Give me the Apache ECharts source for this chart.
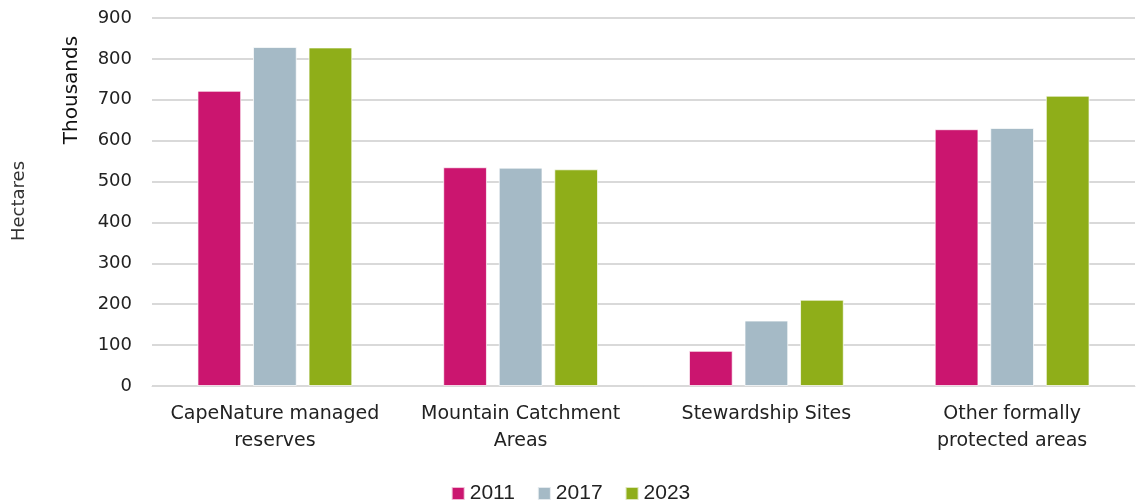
<!DOCTYPE html>
<html><head><meta charset="utf-8">
<script src="https://cdn.jsdelivr.net/npm/echarts@6/dist/echarts.min.js"></script>
<style>html,body{margin:0;padding:0;background:#fff}#c{width:1141px;height:503px}</style>
</head><body><div id="c"></div>
<script>
const categories = ["CapeNature managed\nreserves", "Mountain Catchment\nAreas", "Stewardship Sites", "Other formally\nprotected areas"];
const years = ["2011", "2017", "2023"];
const v2011 = [722, 535, 86, 628];
const v2017 = [829, 534, 160, 631];
const v2023 = [828, 530, 211, 710];
const colors = ["#CB156F", "#A5BAC6", "#8FAE19"];
const FONT = "'DejaVu Sans', sans-serif";
const chart = echarts.init(document.getElementById('c'), null, {renderer: 'canvas'});
const mk = (name, data, i) => ({
  name, type: 'bar', data,
  itemStyle: {color: colors[i], borderColor: 'rgba(255,255,255,0.7)', borderWidth: 1},
  barGap: '27%', barCategoryGap: '37%'
});
chart.setOption({
  animation: false,
  grid: {left: 152, right: 6, top: 18, bottom: 117},
  legend: {
    top: 478, left: 'center', itemWidth: 13, itemHeight: 13, itemGap: 22,
    icon: 'rect',
    textStyle: {fontFamily: "'Liberation Sans', sans-serif", fontSize: 21, color: '#222'},
    data: years
  },
  xAxis: {
    type: 'category', data: categories,
    axisLine: {lineStyle: {color: '#d9d9d9'}}, axisTick: {show: false},
    axisLabel: {fontFamily: FONT, fontSize: 19, color: '#222', lineHeight: 27, margin: 15, interval: 0}
  },
  yAxis: {
    type: 'value', min: 0, max: 900, interval: 100,
    axisLine: {show: false}, axisTick: {show: false},
    splitLine: {lineStyle: {color: '#d9d9d9', width: 2}},
    axisLabel: {fontFamily: FONT, fontSize: 18, color: '#222', margin: 20}
  },
  graphic: [
    {type: 'text', x: 72, y: 90, rotation: Math.PI/2,
     style: {text: 'Thousands', font: "20px 'DejaVu Sans', sans-serif", fill: '#111', textAlign: 'center', textVerticalAlign: 'middle'}},
    {type: 'text', x: 19, y: 201, rotation: Math.PI/2,
     style: {text: 'Hectares', font: "18px 'DejaVu Sans', sans-serif", fill: '#333', textAlign: 'center', textVerticalAlign: 'middle'}}
  ],
  series: [mk(years[0], v2011, 0), mk(years[1], v2017, 1), mk(years[2], v2023, 2)]
});
</script></body></html>
